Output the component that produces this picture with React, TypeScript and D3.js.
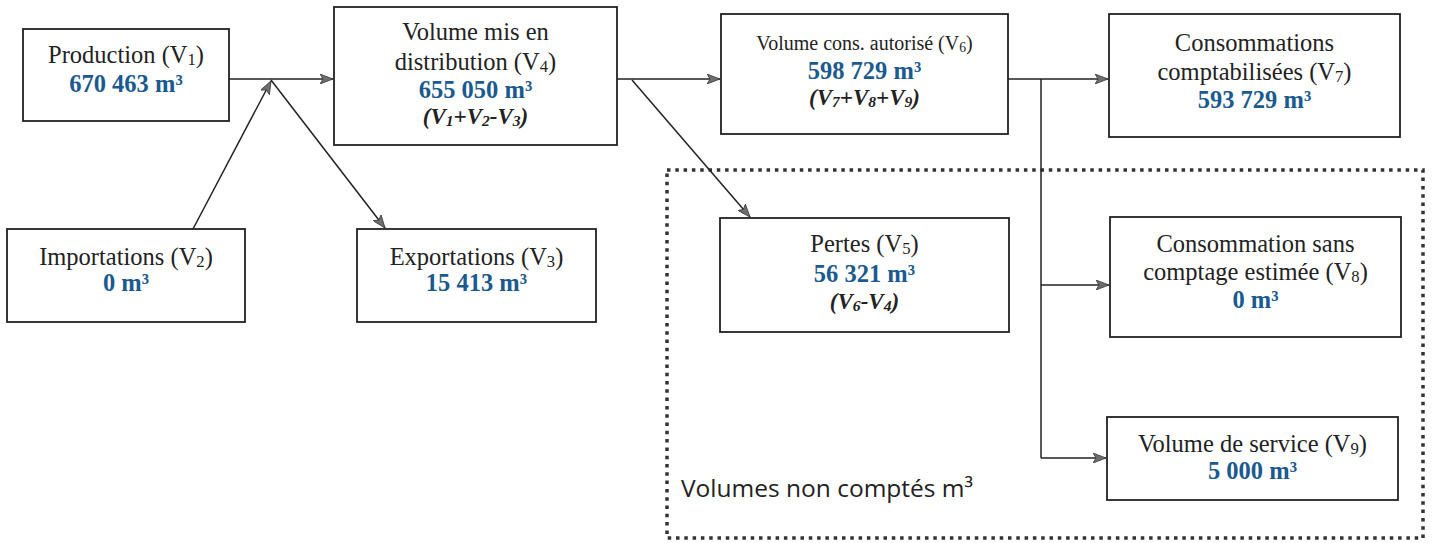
import React from "react";
import * as d3 from "d3";

// ---------- data ----------
const nodeIds = ["V1", "V2", "V3", "V4", "V5", "V6", "V7", "V8", "V9"];
const nodeTitles = [
  ["Production (V_1)"],
  ["Importations (V_2)"],
  ["Exportations (V_3)"],
  ["Volume mis en", "distribution (V_4)"],
  ["Pertes (V_5)"],
  ["Volume cons. autorisé (V_6)"],
  ["Consommations", "comptabilisées (V_7)"],
  ["Consommation sans", "comptage estimée (V_8)"],
  ["Volume de service (V_9)"],
];
const nodeValues = [670463, 0, 15413, 655050, 56321, 598729, 593729, 0, 5000];
const nodeFormulas = ["", "", "", "(V_1+V_2-V_3)", "(V_6-V_4)", "(V_7+V_8+V_9)", "", "", ""];
const unitLabel = "m³";
const groupLabel = "Volumes non comptés m³";

// ---------- layout ----------
const layout: Record<string, { x: number; y: number; w: number; h: number; lines: number[]; fs: number }> = {
  V1: { x: 23, y: 29, w: 206, h: 92, lines: [63, 92], fs: 24.5 },
  V2: { x: 7, y: 229, w: 238, h: 93, lines: [265, 291], fs: 24.5 },
  V3: { x: 357, y: 229, w: 239, h: 93, lines: [265, 291], fs: 24.5 },
  V4: { x: 334, y: 7, w: 283, h: 138, lines: [40, 70, 98, 124], fs: 24.5 },
  V5: { x: 720, y: 218, w: 289, h: 114, lines: [252, 282, 309], fs: 24.5 },
  V6: { x: 721, y: 14, w: 287, h: 120, lines: [50, 79, 105], fs: 20 },
  V7: { x: 1109, y: 14, w: 291, h: 123, lines: [51, 80, 108], fs: 24.5 },
  V8: { x: 1110, y: 217, w: 291, h: 120, lines: [252, 280, 308], fs: 24.5 },
  V9: { x: 1107, y: 417, w: 291, h: 83, lines: [452, 479], fs: 24.5 },
};

const edges: { pts: [number, number][]; arrow: boolean }[] = [
  { pts: [[229, 79], [333, 79]], arrow: true },
  { pts: [[193, 229], [271, 81]], arrow: true },
  { pts: [[271, 80], [385, 228]], arrow: true },
  { pts: [[617, 79], [720, 79]], arrow: true },
  { pts: [[632, 80], [750, 217]], arrow: true },
  { pts: [[1008, 79], [1108, 79]], arrow: true },
  { pts: [[1041, 79], [1041, 458]], arrow: false },
  { pts: [[1041, 285], [1109, 285]], arrow: true },
  { pts: [[1041, 458], [1106, 458]], arrow: true },
];

const groupBox = { x: 667, y: 170, w: 756, h: 368 };

const locale = d3.formatLocale({ decimal: ",", thousands: "\u2009", grouping: [3], currency: ["", ""] });
const fmt = (v: number) => locale.format(",d")(v).replace(/\u2009/g, " ");

const BLUE = "#1b5a8e";
const SERIF = "'Liberation Serif', 'Times New Roman', serif";

function renderSub(s: string, key: string) {
  const parts = s.split(/(_\d)/);
  return parts.map((p, i) =>
    p.startsWith("_") ? (
      <tspan key={key + i} fontSize="0.68em" dy="0.14em">
        {p.slice(1)}
      </tspan>
    ) : (
      <tspan key={key + i} dy={i > 0 && parts[i - 1].startsWith("_") ? "-0.095em" : undefined}>
        {p}
      </tspan>
    )
  );
}

const line = d3.line<[number, number]>();

export default function App() {
  return (
    <svg
      width={1433}
      height={543}
      style={{ position: "absolute", left: 0, top: 0, background: "#fff" }}
      fontFamily={SERIF}
    >
      <defs>
        <marker id="arr" viewBox="0 0 13 10" refX="13" refY="5" markerWidth="13" markerHeight="10" markerUnits="userSpaceOnUse" orient="auto">
          <path d="M0,0 L13,5 L0,10 L3,5 Z" fill="#6e6e6e" stroke="#3a3a3a" strokeWidth={0.8} />
        </marker>
      </defs>
      <rect x={0} y={0} width={1433} height={543} fill="#fff" />
      <rect
        x={groupBox.x}
        y={groupBox.y}
        width={groupBox.w}
        height={groupBox.h}
        fill="none"
        stroke="#333"
        strokeWidth={3.5}
        strokeDasharray="3.5 4.8"
      />
      <text x={681} y={497} fontFamily="'Open Sans', sans-serif" fontSize={24.5} fill="#222">
        {groupLabel}
      </text>
      {edges.map((e, i) => (
        <path
          key={i}
          d={line(e.pts) || ""}
          fill="none"
          stroke="#222"
          strokeWidth={1.5}
          markerEnd={e.arrow ? "url(#arr)" : undefined}
        />
      ))}
      {nodeIds.map((id, i) => {
        const L = layout[id];
        const cx = L.x + L.w / 2;
        const titles = nodeTitles[i];
        const nT = titles.length;
        return (
          <g key={id}>
            <rect x={L.x} y={L.y} width={L.w} height={L.h} fill="#fff" stroke="#222" strokeWidth={1.8} />
            {titles.map((t, j) => (
              <text key={j} x={cx} y={L.lines[j]} textAnchor="middle" fontSize={L.fs} fill="#222">
                {renderSub(t, id + "t" + j)}
              </text>
            ))}
            <text x={cx} y={L.lines[nT]} textAnchor="middle" fontSize={24.5} fontWeight="bold" fill={BLUE}>
              {fmt(nodeValues[i]) + " " + unitLabel}
            </text>
            {nodeFormulas[i] && (
              <text x={cx} y={L.lines[nT + 1]} textAnchor="middle" fontSize={23} fontWeight="bold" fontStyle="italic" fill="#222">
                {renderSub(nodeFormulas[i], id + "f")}
              </text>
            )}
          </g>
        );
      })}
    </svg>
  );
}
